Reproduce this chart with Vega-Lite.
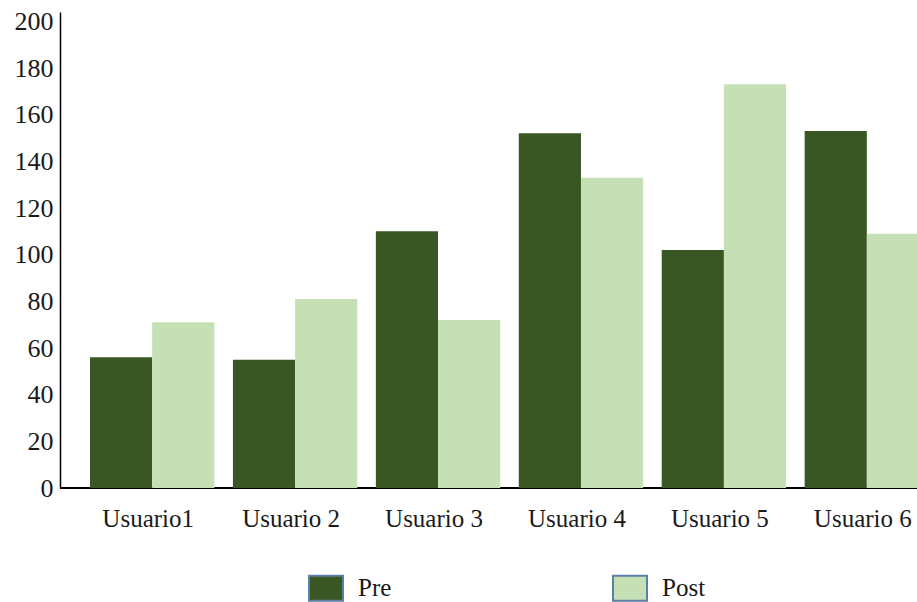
{
  "$schema": "https://vega.github.io/schema/vega-lite/v6.json",
  "width": 857,
  "height": 476,
  "autosize": {"type": "none"},
  "padding": {"left": 60, "top": 12, "right": 0, "bottom": 114},
  "background": "white",
  "config": {"view": {"stroke": null}, "font": "Liberation Serif"},
  "data": {
    "values": [
      {"Usuario": "Usuario1", "Momento": "Pre", "Valor": 56},
      {"Usuario": "Usuario1", "Momento": "Post", "Valor": 71},
      {"Usuario": "Usuario 2", "Momento": "Pre", "Valor": 55},
      {"Usuario": "Usuario 2", "Momento": "Post", "Valor": 81},
      {"Usuario": "Usuario 3", "Momento": "Pre", "Valor": 110},
      {"Usuario": "Usuario 3", "Momento": "Post", "Valor": 72},
      {"Usuario": "Usuario 4", "Momento": "Pre", "Valor": 152},
      {"Usuario": "Usuario 4", "Momento": "Post", "Valor": 133},
      {"Usuario": "Usuario 5", "Momento": "Pre", "Valor": 102},
      {"Usuario": "Usuario 5", "Momento": "Post", "Valor": 173},
      {"Usuario": "Usuario 6", "Momento": "Pre", "Valor": 153},
      {"Usuario": "Usuario 6", "Momento": "Post", "Valor": 109}
    ]
  },
  "layer": [
    {
      "mark": {"type": "rule", "color": "black", "strokeWidth": 1.5},
      "encoding": {
        "y": {
          "datum": 0,
          "type": "quantitative",
          "scale": {"domain": [0, 204]},
          "axis": {
            "title": null,
            "values": [0, 20, 40, 60, 80, 100, 120, 140, 160, 180, 200],
            "grid": false,
            "ticks": false,
            "domain": true,
            "domainColor": "black",
            "domainWidth": 1.5,
            "labelFontSize": 26,
            "labelPadding": 7,
            "labelColor": "#1a1a1a"
          }
        }
      }
    },
    {
      "mark": {"type": "bar", "clip": true},
      "encoding": {
        "x": {
          "field": "Usuario",
          "type": "nominal",
          "sort": null,
          "scale": {"range": [30, 869], "paddingInner": 0.13, "paddingOuter": 0},
          "axis": {
            "title": null,
            "domain": false,
            "ticks": false,
            "labelAngle": 0,
            "labelFontSize": 25,
            "labelPadding": 18,
            "labelOffset": -4,
            "labelColor": "#1a1a1a"
          }
        },
        "xOffset": {
          "field": "Momento",
          "type": "nominal",
          "sort": ["Pre", "Post"],
          "scale": {"paddingInner": 0, "paddingOuter": 0}
        },
        "y": {
          "field": "Valor",
          "type": "quantitative",
          "scale": {"domain": [0, 204]},
          "axis": {
            "title": null,
            "values": [0, 20, 40, 60, 80, 100, 120, 140, 160, 180, 200],
            "grid": false,
            "ticks": false,
            "domain": true,
            "domainColor": "black",
            "domainWidth": 1.5,
            "labelFontSize": 26,
            "labelPadding": 7,
            "labelColor": "#1a1a1a"
          }
        },
        "color": {
          "field": "Momento",
          "type": "nominal",
          "sort": ["Pre", "Post"],
          "scale": {"domain": ["Pre", "Post"], "range": ["#385723", "#c5e0b4"]},
          "legend": {
            "title": null,
            "orient": "none",
            "legendX": 248,
            "legendY": 558,
            "direction": "horizontal",
            "padding": 0,
            "symbolType": "M-1,-0.74H1V0.74H-1Z",
            "symbolSize": 1156,
            "labelFontSize": 25,
            "labelOffset": 14,
            "labelColor": "#1a1a1a",
            "columnPadding": 217,
            "symbolOpacity": 1,
            "encode": {
              "symbols": {"update": {"stroke": {"value": "#5b7fa6"}, "strokeWidth": {"value": 2}}}
            }
          }
        }
      }
    }
  ]
}
